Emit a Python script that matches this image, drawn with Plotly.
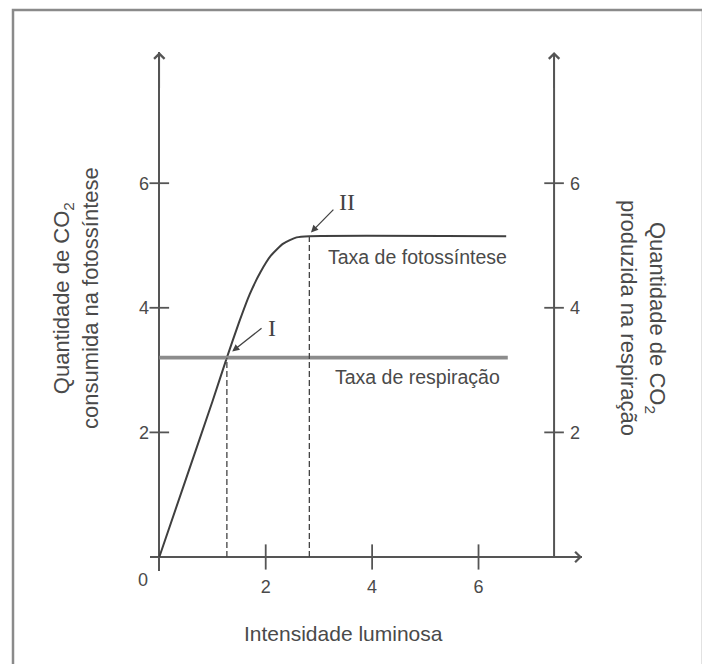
import plotly.graph_objects as go

# ---------------- data ----------------
light = [0, 0.5, 1.0, 1.27, 1.5, 1.7, 1.9, 2.1, 2.33, 2.58, 2.82, 6.52]
photosynthesis = [0, 1.25, 2.5, 3.2, 3.77, 4.22, 4.57, 4.84, 5.03, 5.13, 5.15, 5.15]
resp_light = [0, 6.55]
respiration = [3.2, 3.2]
compensation_x = 1.27      # point I
compensation_y = 3.2
saturation_x = 2.82        # point II
saturation_y = 5.15
x_ticks = [2, 4, 6]
y_ticks = [2, 4, 6]

# ---------------- layout constants ----------------
OFF = 8                      # page body margin
W, H = 710 - OFF, 664 - OFF
# plot area expressed in reference-image pixels
R_PL, R_PR, R_PT, R_PB = 150, 582, 52, 571
PL, PR, PT, PB = R_PL - OFF, R_PR - OFF, R_PT - OFF, R_PB - OFF
X_RANGE = [-0.175, 7.945]
Y_RANGE = [-0.225, 8.106]
X_RIGHT_AXIS = 7.42

AX_COL = "#555555"
TXT_COL = "#4a4a4a"
SANS = "Liberation Sans, Arial, sans-serif"
SERIF = "Liberation Serif, Times New Roman, serif"


def px(xp):
    """reference-image x pixel -> paper x"""
    return (xp - OFF - PL) / (PR - PL)


def py(yp):
    """reference-image y pixel -> paper y"""
    return (PB - (yp - OFF)) / (PB - PT)


fig = go.Figure()

# photosynthesis curve
fig.add_trace(go.Scatter(x=light, y=photosynthesis, mode="lines",
                         line=dict(color="#3f3f3f", width=2, shape="spline", smoothing=0.6),
                         hoverinfo="skip"))
# respiration line
fig.add_trace(go.Scatter(x=resp_light, y=respiration, mode="lines",
                         line=dict(color="#8c8c8c", width=3.8), hoverinfo="skip"))
# dashed guides
fig.add_trace(go.Scatter(x=[compensation_x, compensation_x], y=[0, compensation_y], mode="lines",
                         line=dict(color="#444444", width=1.3, dash="6px,3px"), hoverinfo="skip"))
fig.add_trace(go.Scatter(x=[saturation_x, saturation_x], y=[0, saturation_y], mode="lines",
                         line=dict(color="#444444", width=1.3, dash="6px,3px"), hoverinfo="skip"))

# crossing tick marks
fig.add_trace(go.Scatter(x=[0] * len(y_ticks), y=y_ticks, mode="markers",
                         marker=dict(symbol="line-ew", size=14, line=dict(color=AX_COL, width=1.8)),
                         hoverinfo="skip", cliponaxis=False))
fig.add_trace(go.Scatter(x=[X_RIGHT_AXIS] * len(y_ticks), y=y_ticks, mode="markers",
                         marker=dict(symbol="line-ew", size=14, line=dict(color=AX_COL, width=1.8)),
                         hoverinfo="skip", cliponaxis=False))
fig.add_trace(go.Scatter(x=x_ticks, y=[0] * len(x_ticks), mode="markers",
                         marker=dict(symbol="line-ns", size=18, line=dict(color=AX_COL, width=1.8)),
                         hoverinfo="skip", cliponaxis=False))
# dummy trace for right axis
fig.add_trace(go.Scatter(x=[None], y=[None], yaxis="y2", showlegend=False, hoverinfo="skip"))

# right axis line
fig.add_shape(type="line", xref="x", yref="y", x0=X_RIGHT_AXIS, x1=X_RIGHT_AXIS,
              y0=0, y1=Y_RANGE[1] - 0.05, line=dict(color=AX_COL, width=2))

# frame
fig.add_shape(type="rect", xref="paper", yref="paper",
              x0=px(13), x1=px(703), y0=py(672), y1=py(10),
              line=dict(color="#8a8a8a", width=2.5), fillcolor="rgba(0,0,0,0)", layer="below")

# axis arrows (chevrons)
arrow_common = dict(text="", showarrow=True, arrowhead=4, arrowsize=1.35, arrowwidth=1.5,
                    arrowcolor=AX_COL, xref="x", yref="y", axref="x", ayref="y")
fig.add_annotation(x=0, y=Y_RANGE[1], ax=0, ay=Y_RANGE[1] - 0.6, **arrow_common)
fig.add_annotation(x=X_RIGHT_AXIS, y=Y_RANGE[1], ax=X_RIGHT_AXIS, ay=Y_RANGE[1] - 0.6, **arrow_common)
fig.add_annotation(x=X_RANGE[1], y=0, ax=X_RANGE[1] - 0.6, ay=0, **arrow_common)

# point labels with arrows
fig.add_annotation(x=compensation_x + 0.1, y=compensation_y + 0.1, ax=1.95, ay=3.69,
                   xref="x", yref="y", axref="x", ayref="y", text="", showarrow=True,
                   arrowhead=2, arrowsize=1.1, arrowwidth=1.3, arrowcolor="#444444")
fig.add_annotation(x=2.11, y=3.67, text="I", showarrow=False,
                   font=dict(family=SERIF, size=24, color="#444444"))
fig.add_annotation(x=saturation_x + 0.03, y=saturation_y + 0.06, ax=3.3, ay=5.6,
                   xref="x", yref="y", axref="x", ayref="y", text="", showarrow=True,
                   arrowhead=2, arrowsize=1.1, arrowwidth=1.3, arrowcolor="#444444")
fig.add_annotation(x=3.52, y=5.7, text="II", showarrow=False,
                   font=dict(family=SERIF, size=24, color="#444444"))

# series labels
fig.add_annotation(x=4.86, y=4.82, text="Taxa de fotossíntese", showarrow=False,
                   font=dict(family=SANS, size=19.5, color=TXT_COL))
fig.add_annotation(x=4.85, y=2.89, text="Taxa de respiração", showarrow=False,
                   font=dict(family=SANS, size=19.5, color=TXT_COL))

# origin label
fig.add_annotation(x=0, y=0, text="0", showarrow=False, xshift=-16, yshift=-23,
                   font=dict(family=SANS, size=18, color=TXT_COL))

# axis titles
fig.add_annotation(xref="paper", yref="paper", x=px(343), y=py(633), xanchor="center", yanchor="middle",
                   text="Intensidade luminosa",
                   showarrow=False, font=dict(family=SANS, size=21, color=TXT_COL))
fig.add_annotation(xref="paper", yref="paper", x=px(76), y=py(298), xanchor="center", yanchor="middle",
                   textangle=-90,
                   text="Quantidade de CO<sub>2</sub><br>consumida na fotossíntese",
                   showarrow=False, font=dict(family=SANS, size=22, color=TXT_COL))
fig.add_annotation(xref="paper", yref="paper", x=px(643), y=py(318), xanchor="center", yanchor="middle",
                   textangle=90,
                   text="Quantidade de CO<sub>2</sub><br>produzida na respiração",
                   showarrow=False, font=dict(family=SANS, size=22, color=TXT_COL))

fig.update_layout(
    width=W, height=H, showlegend=False,
    paper_bgcolor="white", plot_bgcolor="white",
    margin=dict(l=PL, r=W - PR, t=PT, b=H - PB),
    xaxis=dict(range=X_RANGE, showgrid=False, zeroline=True, zerolinecolor=AX_COL, zerolinewidth=2,
               showline=False, tickmode="array", tickvals=x_ticks, ticks="",
               tickfont=dict(family=SANS, size=18, color=TXT_COL), ticklabelstandoff=3, fixedrange=True),
    yaxis=dict(range=Y_RANGE, showgrid=False, zeroline=True, zerolinecolor=AX_COL, zerolinewidth=2,
               showline=False, tickmode="array", tickvals=y_ticks, ticks="",
               tickfont=dict(family=SANS, size=18, color=TXT_COL), ticklabelstandoff=0, fixedrange=True),
    yaxis2=dict(range=Y_RANGE, overlaying="y", side="right", anchor="free",
                position=px(554), showgrid=False, zeroline=False, showline=False,
                tickmode="array", tickvals=y_ticks, ticks="",
                tickfont=dict(family=SANS, size=18, color=TXT_COL), ticklabelstandoff=15, fixedrange=True),
)

fig.write_html("out.html")
